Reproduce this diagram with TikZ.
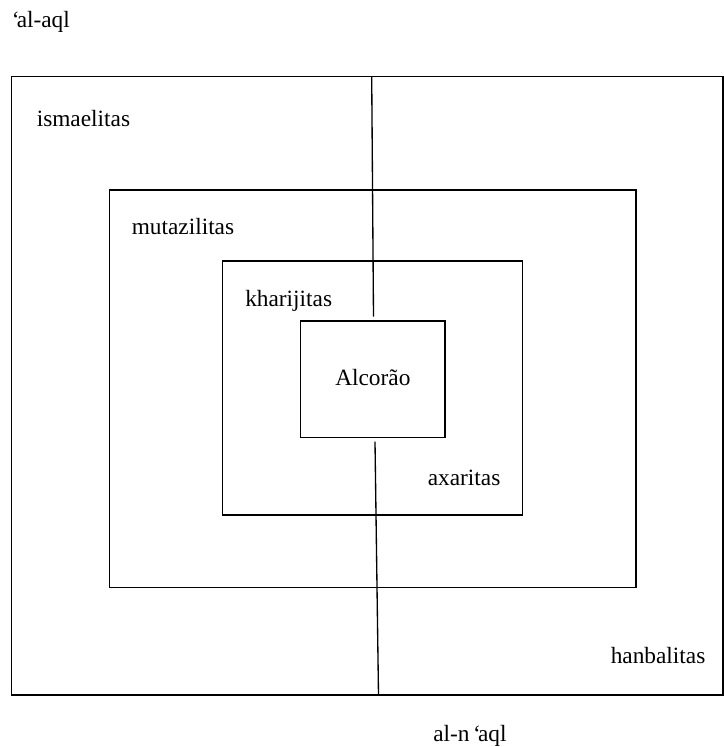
\documentclass[tikz,border=0pt]{standalone}
\usepackage{fontspec}
\setmainfont{Liberation Serif}
\usepackage{tikz}
\definecolor{white}{rgb}{1.0, 1.0, 1.0}
\definecolor{black}{rgb}{0.0, 0.0, 0.0}
\pgfdeclarelayer{edgelayer}
\pgfdeclarelayer{nodelayer}
\pgfsetlayers{edgelayer,nodelayer,main}
\tikzstyle{box}=[draw=black,line width=1pt]
\tikzstyle{cut}=[draw=black,line width=1pt]
\tikzstyle{label}=[anchor=base west,inner sep=0pt,font=\fontsize{17.5}{21}\selectfont]

\begin{document}
\begin{tikzpicture}[x=0.75pt,y=-0.75pt]
        \useasboundingbox (0,0) rectangle (724,747);
        \begin{pgfonlayer}{nodelayer}
            \node [style = label] (aql) at (11.5, 27) {‘\kern-0.12em al-aql};
            \node [style = label] (ismaelitas) at (36.5, 126) {ismaelitas};
            \node [style = label] (mutazilitas) at (131.5, 234) {mutazilitas};
            \node [style = label] (kharijitas) at (245, 306) {kharijitas};
            \node [style = label] (alcorao) at (335, 385.5) {Alcorão};
            \node [style = label] (axaritas) at (427.5, 485) {axaritas};
            \node [style = label] (hanbalitas) at (610.5, 663) {hanbalitas};
            \node [style = label] (naql) at (433, 741.5) {al-n\kern0.15em‘\kern-0.12em aql};
        \end{pgfonlayer}

        \begin{pgfonlayer}{edgelayer}
            \coordinate (topA) at (371.7, 76.7);
            \coordinate (topB) at (373.5, 316.7);
            \coordinate (botA) at (375, 441.7);
            \coordinate (botB) at (378.5, 695);

            \draw [style = box] (11.7, 76.7) rectangle (723, 695);
            \draw [style = box] (109.3, 190) rectangle (636, 587.7);
            \draw [style = box] (222.7, 261) rectangle (522.7, 515);
            \draw [style = box] (300.7, 321) rectangle (445, 437.3);

            \draw [style = cut] (topA) to (topB);
            \draw [style = cut] (botA) to (botB);
        \end{pgfonlayer}
\end{tikzpicture}
\end{document}
